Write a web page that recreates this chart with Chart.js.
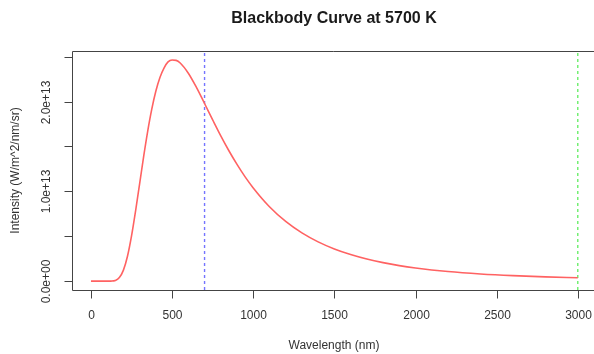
<!DOCTYPE html>
<html>
<head>
<meta charset="utf-8">
<script src="https://cdn.jsdelivr.net/npm/chart.js@4.4.1/dist/chart.umd.min.js"></script>
<style>
  html, body { margin: 0; padding: 0; background: #fff; }
</style>
</head>
<body>
<canvas id="c" width="594" height="354"></canvas>
<script>
// values
var wavelengths = [0, 50, 100, 125, 150, 175, 200, 225, 250, 275, 300, 325, 350, 375, 400, 425, 450, 475,
  500, 525, 550, 600, 650, 700, 750, 800, 850, 900, 950, 1000, 1100, 1200, 1300, 1400, 1500, 1600,
  1700, 1800, 1900, 2000, 2200, 2400, 2600, 2800, 3000];
var intensity = [0, 0, 0.00001e13, 0.0007e13, 0.0077e13, 0.0395e13, 0.123e13, 0.277e13, 0.503e13, 0.782e13,
  1.087e13, 1.392e13, 1.674e13, 1.918e13, 2.117e13, 2.268e13, 2.373e13, 2.441e13,
  2.462e13, 2.458e13, 2.429e13, 2.315e13, 2.157e13, 1.978e13, 1.796e13, 1.618e13, 1.452e13, 1.300e13,
  1.161e13, 1.038e13, 0.829e13, 0.665e13, 0.537e13, 0.437e13, 0.358e13, 0.296e13,
  0.246e13, 0.206e13, 0.173e13, 0.147e13, 0.1075e13, 0.0803e13, 0.0611e13, 0.0473e13, 0.0371e13];
var markerWl = [700, 3000];        // dashed reference lines
var xTicks = [0, 500, 1000, 1500, 2000, 2500, 3000];
var yTicks = [0, 0.5e13, 1e13, 1.5e13, 2e13, 2.5e13];
var yTickLabels = ['0.0e+00', '', '1.0e+13', '', '2.0e+13', ''];

var xMin = -120, xMax = 3100;
var yMin = -0.0986e13, yMax = 2.5626e13;

var font = "'Liberation Sans', Arial, Helvetica, sans-serif";

var points = wavelengths.map(function (w, i) { return { x: w, y: intensity[i] }; });
function vline(w) { return [{ x: w, y: yMin }, { x: w, y: yMax }]; }

// R style axes: box, outward ticks, rotated y labels
var rAxes = {
  id: 'rAxes',
  afterDraw: function (chart) {
    var ctx = chart.ctx, a = chart.chartArea;
    var xs = chart.scales.x, ys = chart.scales.y;
    ctx.save();
    ctx.strokeStyle = '#444';
    ctx.lineWidth = 1;
    var L = Math.round(a.left) + 0.5, T = Math.round(a.top) + 0.5, B = Math.round(a.bottom) + 0.5;
    ctx.beginPath();
    ctx.moveTo(a.right + 5, T); ctx.lineTo(L, T); ctx.lineTo(L, B); ctx.lineTo(a.right + 5, B);
    ctx.stroke();

    ctx.fillStyle = '#333';
    ctx.font = '12px ' + font;
    ctx.textAlign = 'center';
    ctx.textBaseline = 'middle';
    xTicks.forEach(function (v) {
      var px = Math.round(xs.getPixelForValue(v)) + 0.5;
      ctx.beginPath(); ctx.moveTo(px, B); ctx.lineTo(px, B + 8); ctx.stroke();
      ctx.fillText(String(v), px, 316);
    });
    yTicks.forEach(function (v, i) {
      var py = Math.round(ys.getPixelForValue(v)) + 0.5;
      ctx.beginPath(); ctx.moveTo(L - 8, py); ctx.lineTo(L, py); ctx.stroke();
      if (yTickLabels[i]) {
        ctx.save();
        ctx.translate(47, py);
        ctx.rotate(-Math.PI / 2);
        ctx.fillText(yTickLabels[i], 0, 0);
        ctx.restore();
      }
    });

    ctx.fillText('Wavelength (nm)', 334, 346);
    ctx.save();
    ctx.translate(16, (a.top + a.bottom) / 2);
    ctx.rotate(-Math.PI / 2);
    ctx.fillText('Intensity (W/m^2/nm/sr)', 0, 0);
    ctx.restore();

    ctx.font = 'bold 16px ' + font;
    ctx.fillStyle = '#1a1a1a';
    ctx.fillText('Blackbody Curve at 5700 K', 334, 19);
    ctx.restore();
  }
};

new Chart(document.getElementById('c'), {
  type: 'line',
  data: {
    datasets: [{
      data: points,
      borderColor: '#ff6262',
      borderWidth: 1.6,
      pointRadius: 0,
      cubicInterpolationMode: 'monotone'
    }, {
      data: vline(markerWl[0]),
      borderColor: '#7474ff',
      borderWidth: 1.4,
      borderDash: [3, 3],
      pointRadius: 0
    }, {
      data: vline(markerWl[1]),
      borderColor: '#6aee6a',
      borderWidth: 1.4,
      borderDash: [3, 3],
      pointRadius: 0
    }]
  },
  options: {
    responsive: false,
    animation: false,
    layout: { padding: { left: 71.5, top: 51, right: 0, bottom: 64 } },
    plugins: { legend: { display: false }, tooltip: { enabled: false }, title: { display: false } },
    scales: {
      x: { type: 'linear', min: xMin, max: xMax, display: false },
      y: { type: 'linear', min: yMin, max: yMax, display: false }
    }
  },
  plugins: [rAxes]
});
</script>
</body>
</html>
